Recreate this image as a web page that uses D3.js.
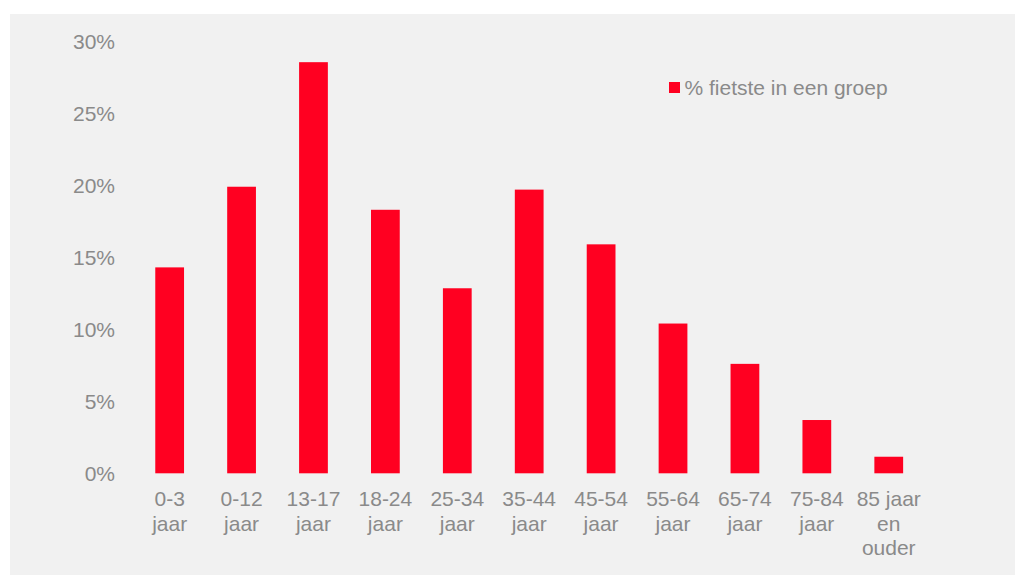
<!DOCTYPE html>
<html>
<head>
<meta charset="utf-8">
<script src="https://cdn.jsdelivr.net/npm/d3@7"></script>
<style>
  body { margin: 0; background: #ffffff; }
  svg text { font-family: "Liberation Sans", Arial, sans-serif; fill: #8a8a8a; }
</style>
</head>
<body>
<div id="chart"></div>
<script>
// leeftijdsgroepen (regels van het label)
var groepen = [
  ["0-3", "jaar"],
  ["0-12", "jaar"],
  ["13-17", "jaar"],
  ["18-24", "jaar"],
  ["25-34", "jaar"],
  ["35-44", "jaar"],
  ["45-54", "jaar"],
  ["55-64", "jaar"],
  ["65-74", "jaar"],
  ["75-84", "jaar"],
  ["85 jaar", "en", "ouder"]
]
// % fietste in een groep
var waarden = [14.3, 19.9, 28.55, 18.3, 12.85, 19.7, 15.9, 10.4, 7.6, 3.7, 1.15]
var yTicks = [0, 5, 10, 15, 20, 25, 30]
var legendaTekst = "% fietste in een groep"

var width = 1016, height = 575
var rood = "#ff0021"

var svg = d3.select("#chart").append("svg")
  .attr("width", width)
  .attr("height", height)

// achtergrond paneel
svg.append("rect")
  .attr("x", 10).attr("y", 14)
  .attr("width", 1005).attr("height", height - 14)
  .attr("fill", "#f1f1f1")

var x = d3.scaleBand()
  .domain(d3.range(groepen.length))
  .range([133.7, 924.7])
  .paddingInner(0.6)
  .paddingOuter(0.3)

var y = d3.scaleLinear()
  .domain([0, 30])
  .range([473.3, 41.3])

// staven
svg.append("g")
  .selectAll("rect")
  .data(waarden).enter()
  .append("rect")
  .attr("x", (d, i) => x(i))
  .attr("y", d => y(d))
  .attr("width", x.bandwidth())
  .attr("height", d => y(0) - y(d))
  .attr("fill", rood)

// y-as labels
var ejeY = d3.axisLeft(y)
  .tickValues(yTicks)
  .tickFormat(d => d + "%")
  .tickSize(0)
  .tickPadding(0)

var gY = svg.append("g")
  .attr("transform", "translate(115,0)")
  .call(ejeY)
gY.select(".domain").remove()
gY.selectAll("text")
  .attr("font-size", 21)
  .attr("font-family", null)
  .attr("dy", "0.36em")

// x-as labels (meerdere regels)
var lab = svg.append("g")
  .selectAll("text")
  .data(groepen).enter()
  .append("text")
  .attr("text-anchor", "middle")
  .attr("font-size", 21)
  .attr("transform", (d, i) => "translate(" + (x(i) + x.bandwidth() / 2) + ",506)")

lab.selectAll("tspan")
  .data(d => d).enter()
  .append("tspan")
  .attr("x", 0)
  .attr("y", (d, j) => j * 24.5)
  .text(d => d)

// legenda
svg.append("rect")
  .attr("x", 669).attr("y", 82)
  .attr("width", 11).attr("height", 11)
  .attr("fill", rood)
svg.append("text")
  .attr("x", 684.5).attr("y", 87.5)
  .attr("dy", "0.36em")
  .attr("font-size", 21)
  .text(legendaTekst)
</script>
</body>
</html>
